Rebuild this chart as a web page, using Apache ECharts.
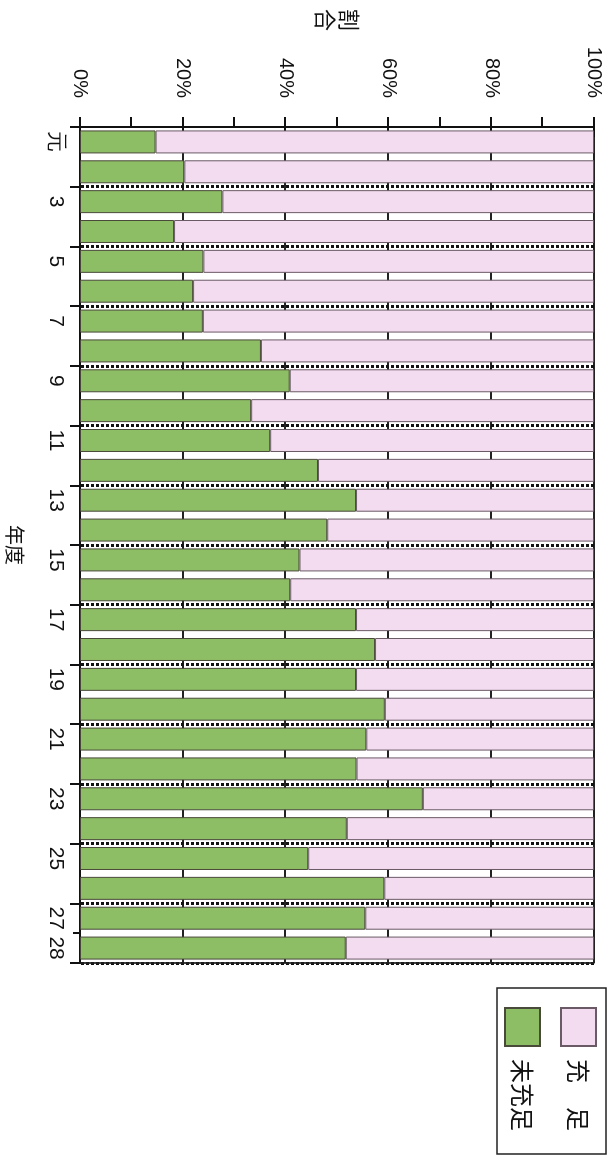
<!DOCTYPE html>
<html>
<head>
<meta charset="utf-8">
<script src="https://cdn.jsdelivr.net/npm/echarts@6/dist/echarts.min.js"></script>
<style>
html,body{margin:0;padding:0;background:#fff;overflow:hidden;width:611px;height:1155px;}
#chart{position:absolute;left:0;top:0;width:1155px;height:611px;transform-origin:0 0;transform:translate(611px,0) rotate(90deg);}
</style>
</head>
<body>
<div id="chart"></div>
<script>
// Fiscal years (Heisei): 元 = 1
const categories = ['元','2','3','4','5','6','7','8','9','10','11','12','13','14','15','16','17','18','19','20','21','22','23','24','25','26','27','28'];
// 未充足 (unfilled) share, %
const unfilled = [14.7,20.3,27.7,18.3,24.0,22.0,23.9,35.2,40.8,33.3,37.0,46.3,53.7,48.1,42.7,40.9,53.7,57.4,53.7,59.3,55.7,53.8,66.7,51.9,44.4,59.2,55.5,51.7];
// 充足 (filled) share, %
const filled = [85.3,79.7,72.3,81.7,76.0,78.0,76.1,64.8,59.2,66.7,63.0,53.7,46.3,51.9,57.3,59.1,46.3,42.6,46.3,40.7,44.3,46.2,33.3,48.1,55.6,40.8,44.5,48.3];
const valueTicks = [0,20,40,60,80,100];
const seriesNames = ['充　足','未充足'];

const chart = echarts.init(document.getElementById('chart'));
const FONT = "'Liberation Sans', Arial, sans-serif";
const CJK = "'Noto Sans CJK JP', sans-serif";
const N = categories.length;
chart.setOption({
  animation: false,
  backgroundColor: '#fff',
  grid: {left: 127, right: 192, top: 17, bottom: 75.5, show: true, borderColor: '#333', borderWidth: 1},
  legend: {
    data: [seriesNames[0], seriesNames[1]],
    orient: 'vertical', left: 988, top: 5,
    padding: [9, 23, 7, 19],
    itemWidth: 38, itemHeight: 35, itemGap: 19, icon: 'rect',
    borderColor: '#222', borderWidth: 1.5,
    textStyle: {fontFamily: CJK, fontSize: 24, color: '#111', padding: [0,0,0,8]}
  },
  xAxis: [{
    type: 'category', data: categories, position: 'bottom',
    name: '年度', nameLocation: 'middle', nameGap: 55,
    nameTextStyle: {fontFamily: CJK, fontSize: 20, color: '#111'},
    axisLine: {lineStyle: {color: '#111', width: 2}},
    axisTick: {show: true, length: 7, lineStyle: {color: '#111', width: 2}},
    axisLabel: {fontFamily: FONT, fontSize: 21, color: '#111', margin: 14,
      interval: function (i) { return i % 2 === 0 || i === N - 1; }},
    splitLine: {show: true, interval: function (i) { return i % 2 === 0 && i > 0 && i < N; },
      lineStyle: {color: '#111', width: 3, type: [3, 2]}}
  }, {
    type: 'category', data: categories, position: 'bottom',
    axisLine: {show: false},
    axisTick: {show: true, length: 10, interval: function (i) { return i % 2 === 0; },
      lineStyle: {color: '#111', width: 2}},
    axisLabel: {show: false}, splitLine: {show: false}
  }],
  yAxis: [{
    type: 'value', min: 0, max: 100, interval: 20, position: 'left',
    name: '割\n合', nameLocation: 'middle', nameRotate: 0, nameGap: 96,
    nameTextStyle: {fontFamily: CJK, fontSize: 22, color: '#111', lineHeight: 24},
    axisLine: {show: true, lineStyle: {color: '#111', width: 2}},
    axisTick: {show: true, length: 10, lineStyle: {color: '#111', width: 2}},
    minorTick: {show: true, splitNumber: 2, length: 10, lineStyle: {color: '#111', width: 2}},
    axisLabel: {fontFamily: FONT, fontSize: 20, color: '#111', margin: 29,
      formatter: function (v) { return valueTicks.indexOf(v) >= 0 ? v + '%' : ''; }},
    splitLine: {show: true, lineStyle: {color: '#222', width: 2}}
  }, {
    type: 'value', min: 0, max: 100, interval: 20, position: 'left',
    axisLine: {show: false},
    axisTick: {show: true, inside: true, length: 10, lineStyle: {color: '#111', width: 2}},
    axisLabel: {show: false}, splitLine: {show: false}
  }, {
    type: 'value', min: 0, max: 100, interval: 20, position: 'right',
    axisLine: {show: true, lineStyle: {color: '#222', width: 1.5}},
    axisTick: {show: false}, axisLabel: {show: false}, splitLine: {show: false}
  }],
  series: [{
    name: seriesNames[1], type: 'bar', stack: 'total', data: unfilled,
    barCategoryGap: '23%',
    itemStyle: {color: '#8dbd65', borderColor: '#4a4a3a', borderWidth: 1}
  }, {
    name: seriesNames[0], type: 'bar', stack: 'total', data: filled,
    barCategoryGap: '23%',
    itemStyle: {color: '#f3dcef', borderColor: '#6a5a66', borderWidth: 1}
  }]
});
</script>
</body>
</html>
